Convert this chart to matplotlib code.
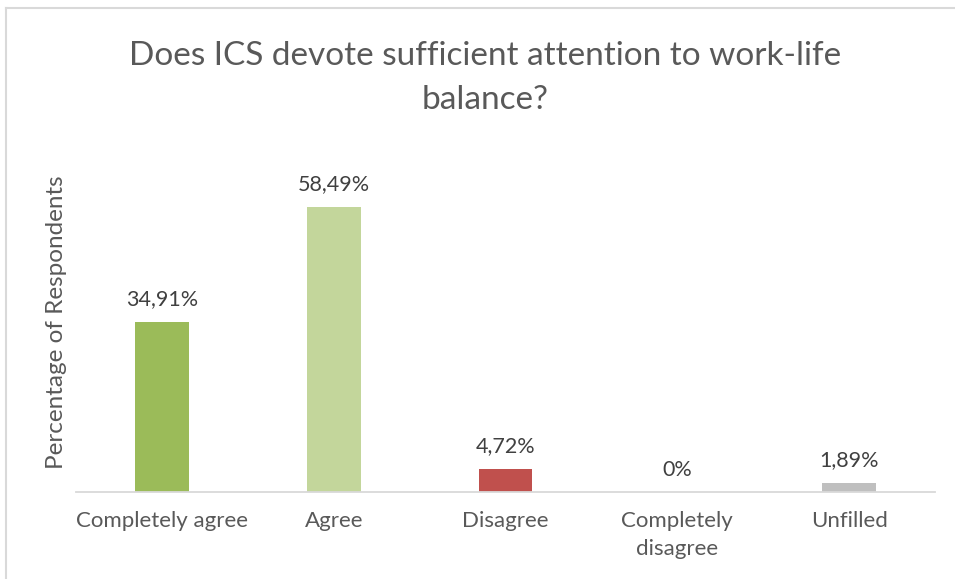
import matplotlib
matplotlib.use("Agg")
import matplotlib.pyplot as plt
from matplotlib.lines import Line2D

categories = ["Completely agree", "Agree", "Disagree", "Completely\ndisagree", "Unfilled"]
values = [34.91, 58.49, 4.72, 0.0, 1.89]
value_labels = ["34,91%", "58,49%", "4,72%", "0%", "1,89%"]
colors = ["#9BBB59", "#C3D69B", "#C0504D", "#8064A2", "#BFBFBF"]

TEXT = "#595959"
plt.rcParams["font.family"] = ["Lato", "DejaVu Sans"]

W, H = 955, 579
fig = plt.figure(figsize=(W / 100, H / 100), dpi=100)
fig.patch.set_facecolor("white")

# frame lines along the top and left edges of the chart area
fig.add_artist(Line2D([5.5 / W, 5.5 / W], [0, 1 - 7.5 / H], transform=fig.transFigure,
                      color="#D9D9D9", lw=1.5))
fig.add_artist(Line2D([5.5 / W, 1], [1 - 7.5 / H, 1 - 7.5 / H], transform=fig.transFigure,
                      color="#D9D9D9", lw=1.5))

ax_left, ax_right = 76, 935
ax_bottom, ax_top = 492, 150
ax = fig.add_axes([ax_left / W, 1 - ax_bottom / H, (ax_right - ax_left) / W,
                   (ax_bottom - ax_top) / H])

x = range(len(categories))
bars = ax.bar(x, values, width=0.314, color=colors, zorder=2)
ax.set_xlim(-0.5, len(categories) - 0.5)
ax.set_ylim(0, 70.18)

for rect, lab in zip(bars, value_labels):
    ax.annotate(lab, (rect.get_x() + rect.get_width() / 2, rect.get_height()),
                xytext=(0, 9), textcoords="offset points", ha="center", va="bottom",
                fontsize=15.5, color="#404040")

ax.set_xticks(list(x))
ax.set_xticklabels(categories, fontsize=16, color=TEXT, linespacing=1.45)
ax.tick_params(axis="x", length=0, pad=14)
ax.set_yticks([])
for side in ("top", "right", "left"):
    ax.spines[side].set_visible(False)
ax.spines["bottom"].set_color("#D9D9D9")
ax.spines["bottom"].set_linewidth(1.3)

ax.set_ylabel("Percentage of Respondents", fontsize=17.5, color=TEXT)
ax.yaxis.set_label_coords((67 - ax_left) / (ax_right - ax_left), (ax_bottom - 322) / (ax_bottom - ax_top))

fig.text(485 / W, 1 - 78 / H, "Does ICS devote sufficient attention to work-life\nbalance?",
         ha="center", va="center", fontsize=24, color=TEXT, linespacing=1.6)

fig.savefig("out.png", dpi=100)
